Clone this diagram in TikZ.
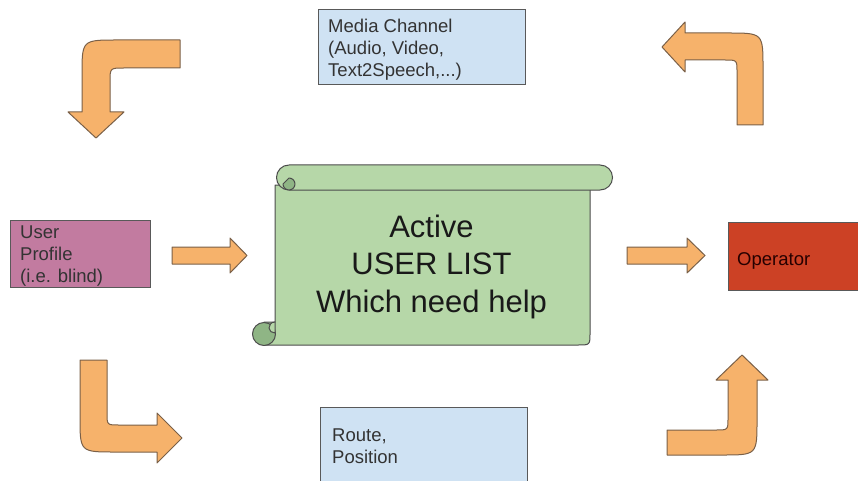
\documentclass[tikz,border=0pt]{standalone}
\usepackage{fontspec}
\setmainfont{Liberation Sans}
\definecolor{arrowfill}{HTML}{F6B26B}
\definecolor{arrowline}{HTML}{7A6048}
\definecolor{scrollgreen}{HTML}{B6D7A8}
\definecolor{curlgreen}{HTML}{8FB585}
\definecolor{mediablue}{HTML}{CFE2F3}
\definecolor{profilepink}{HTML}{C27BA0}
\definecolor{operatorred}{HTML}{CC4125}
\definecolor{boxline}{HTML}{595959}

\begin{document}
\begin{tikzpicture}[x=1pt, y=-1pt,
    blockarrow/.style={fill=arrowfill, draw=arrowline, line width=1pt, line join=round},
    infobox/.style={draw=boxline, line width=1pt, anchor=north west, inner sep=0pt},
    boxtext/.style={anchor=north west, align=left, inner sep=0pt, text=black!80,
        font=\fontsize{18.5}{22}\selectfont},
    scrollline/.style={draw=black!70, line width=1pt, line join=round}]
    \useasboundingbox (0,0) rectangle (858,481);

    % boxes
    \node[infobox, fill=mediablue, minimum width=207pt, minimum height=75pt] (media) at (318,9) {};
    \node[infobox, fill=mediablue, minimum width=207pt, minimum height=90pt] (route) at (320,407) {};
    \node[infobox, fill=profilepink, minimum width=140pt, minimum height=67pt] (profile) at (10,220) {};
    \node[infobox, fill=operatorred, minimum width=140pt, minimum height=68pt] (operator) at (728,222) {};

    \node[boxtext] (mediatext) at (328,18.5) {Media Channel\\(Audio, Video,\\Text2Speech,...)};
    \node[boxtext] (routetext) at (332,429) {Route,\\Position};
    \node[boxtext] (profiletext) at (20,225.5) {User\\Profile\\(i.e. blind)};
    \node[boxtext, text=black!85!red] (operatortext) at (737,252.3) {Operator};

    % scroll
    \filldraw[scrollline, fill=scrollgreen] (275,185) -- (590,185) -- (590,333)
        .. controls (590,345) .. (578,345) -- (264,345) -- (264,322) -- (275,322) -- cycle;
    \filldraw[scrollline, fill=scrollgreen] (289,165) -- (600,165)
        .. controls (607,165) and (612.5,170.6) .. (612.5,177.5)
        .. controls (612.5,184.4) and (607,190) .. (600,190) -- (289,190)
        .. controls (282,190) and (276.5,184.4) .. (276.5,177.5)
        .. controls (276.5,170.6) and (282,165) .. (289,165) -- cycle;
    \filldraw[scrollline, fill=curlgreen] (283,184) .. controls (283,187.3) and (285.7,190) .. (289,190)
        .. controls (292.3,190) and (295,187.3) .. (295,184)
        .. controls (295,180.7) and (292.3,178) .. (289,178) -- cycle;
    \filldraw[scrollline, fill=curlgreen] (264,334) circle (11.5pt);
    \filldraw[scrollline, fill=scrollgreen] (275,322) .. controls (271,322) and (269,325) .. (269,328)
        .. controls (269,331) and (272,333) .. (275,333) -- cycle;
    \node[align=center, anchor=north, inner sep=0pt, text=black!90,
        font=\fontsize{31}{37.5}\selectfont] (userlist) at (431.5,214.5) {Active\\USER LIST\\Which need help};

    % straight arrows
    \filldraw[blockarrow] (172,247) -- (230,247) -- (230,238) -- (247,255.5) -- (230,273) -- (230,264) -- (172,264) -- cycle;
    \filldraw[blockarrow] (627,247) -- (687,247) -- (687,238) -- (705,255.5) -- (687,273) -- (687,264) -- (627,264) -- cycle;

    % bent arrows
    \filldraw[blockarrow] (180,40) -- (117,40) .. controls (82,40) .. (82,75) -- (82,112) -- (68,112)
        -- (96,138) -- (124,112) -- (110,112) -- (110,82) .. controls (110,68) .. (124,68) -- (180,68) -- cycle;
    \filldraw[blockarrow] (737,125) -- (763,125) -- (763,68) .. controls (763,33) .. (728,33) -- (685,33)
        -- (685,22) -- (662,47) -- (685,72) -- (685,60) -- (725,60) .. controls (737,60) .. (737,72) -- cycle;
    \filldraw[blockarrow] (80,360) -- (107,360) -- (107,413) .. controls (107,425) .. (119,425) -- (157,425)
        -- (157,413) -- (182,438) -- (157,463) -- (157,452) -- (115,452) .. controls (80,452) .. (80,417) -- cycle;
    \filldraw[blockarrow] (667,430) -- (716,430) .. controls (728,430) .. (728,418) -- (728,380) -- (716,380)
        -- (742,355) -- (768,380) -- (757,380) -- (757,420) .. controls (757,455) .. (722,455) -- (667,455) -- cycle;
\end{tikzpicture}
\end{document}
